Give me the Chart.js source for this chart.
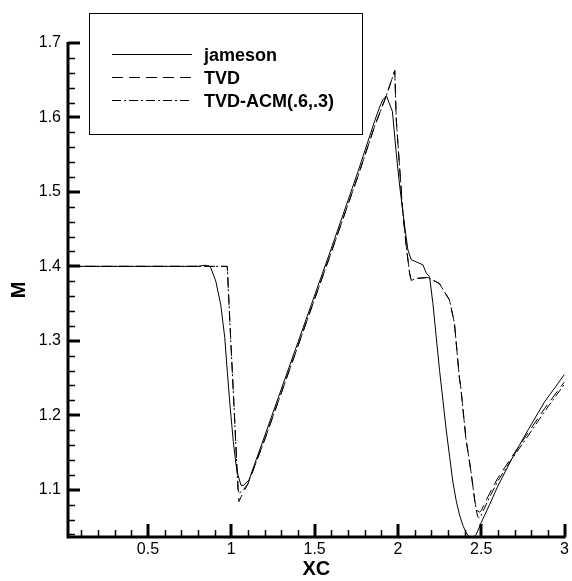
<!DOCTYPE html>
<html>
<head>
<meta charset="utf-8">
<script src="https://cdn.jsdelivr.net/npm/chart.js@4.4.0/dist/chart.umd.min.js"></script>
<style>
  html, body { margin: 0; padding: 0; background: #fff; }
</style>
</head>
<body>
<canvas id="myChart" width="572" height="581"></canvas>
<script>
// curve values
var jamesonX = [0.02, 0.80, 0.84, 0.867, 0.877, 0.907, 0.937, 0.961, 0.976, 0.992, 1.012, 1.028, 1.040, 1.058, 1.075, 1.106,
  1.2, 1.4, 1.6, 1.76, 1.86, 1.89, 1.91, 1.931, 1.967, 1.99, 2.011, 2.041, 2.06, 2.08, 2.15, 2.17, 2.19,
  2.21, 2.23, 2.25, 2.27, 2.29, 2.31, 2.33, 2.35, 2.37, 2.39, 2.41, 2.43, 2.45, 2.47, 2.50, 2.55, 2.60, 2.68, 2.78, 2.88, 3.0];
var jamesonM = [1.4, 1.4, 1.4015, 1.4005, 1.398, 1.380, 1.348, 1.304, 1.259, 1.214, 1.165, 1.134, 1.120, 1.106, 1.106, 1.113,
  1.172, 1.298, 1.424, 1.527, 1.595, 1.614, 1.624, 1.629, 1.608, 1.552, 1.507, 1.453, 1.422, 1.409, 1.402, 1.391, 1.386,
  1.35, 1.305, 1.26, 1.22, 1.18, 1.145, 1.11, 1.085, 1.066, 1.052, 1.042, 1.036, 1.035, 1.04, 1.056, 1.08, 1.105, 1.14, 1.18, 1.218, 1.255];

var tvdX = [0.02, 0.975, 0.976, 0.996, 1.016, 1.032, 1.046, 1.06, 1.1, 1.2, 1.4, 1.6, 1.76, 1.86, 1.93, 1.981,
  1.990, 2.011, 2.030, 2.050, 2.070, 2.080, 2.10, 2.12, 2.18, 2.249, 2.309, 2.339, 2.369, 2.378, 2.408, 2.438, 2.462,
  2.475, 2.49, 2.50, 2.55, 2.60, 2.68, 2.78, 2.88, 3.0];
var tvdM = [1.4, 1.4, 1.399, 1.304, 1.214, 1.138, 1.084, 1.091, 1.108, 1.167, 1.293, 1.419, 1.521, 1.588, 1.629, 1.663,
  1.597, 1.530, 1.471, 1.427, 1.391, 1.381, 1.383, 1.384, 1.385, 1.377, 1.355, 1.324, 1.25, 1.236, 1.169, 1.125, 1.084,
  1.072, 1.070, 1.072, 1.095, 1.116, 1.143, 1.176, 1.209, 1.245];

var acmX = [0.02, 0.975, 0.976, 0.996, 1.016, 1.032, 1.040, 1.05, 1.07, 1.1, 1.2, 1.4, 1.6, 1.76, 1.86, 1.93, 1.981,
  1.990, 2.011, 2.030, 2.050, 2.070, 2.080, 2.10, 2.12, 2.18, 2.249, 2.309, 2.339, 2.369, 2.378, 2.408, 2.438, 2.462,
  2.478, 2.49, 2.50, 2.55, 2.60, 2.68, 2.78, 2.88, 3.0];
var acmM = [1.4, 1.4, 1.399, 1.304, 1.214, 1.138, 1.100, 1.096, 1.099, 1.108, 1.167, 1.293, 1.419, 1.521, 1.588, 1.629, 1.663,
  1.597, 1.530, 1.471, 1.427, 1.391, 1.381, 1.383, 1.384, 1.385, 1.377, 1.355, 1.324, 1.25, 1.236, 1.169, 1.125, 1.084,
  1.064, 1.062, 1.066, 1.090, 1.112, 1.140, 1.172, 1.205, 1.242];

var seriesNames = ['jameson', 'TVD', 'TVD-ACM(.6,.3)'];
var xTickLabels = [0.5, 1, 1.5, 2, 2.5, 3];
var yTickLabels = [1.1, 1.2, 1.3, 1.4, 1.5, 1.6, 1.7];

function pts(xs, ys) {
  return xs.map(function (v, i) { return { x: v, y: ys[i] }; });
}

Chart.defaults.font.family = '"Liberation Sans", Arial, sans-serif';
Chart.defaults.color = '#000';

// ticks point into the plot, axes thick, legend in a framed box
var tecplotAxes = {
  id: 'tecplotAxes',
  afterDraw: function (chart) {
    var ctx = chart.ctx, a = chart.chartArea;
    var xs = chart.scales.x, ys = chart.scales.y;
    ctx.save();
    ctx.strokeStyle = '#000';
    ctx.lineCap = 'butt';

    // minor ticks
    ctx.lineWidth = 1.5;
    ctx.beginPath();
    for (var i = 1; i < 30; i++) {
      var v = i / 10;
      if (i % 5 === 0) continue;
      var px = Math.round(xs.getPixelForValue(v)) + 0.5;
      ctx.moveTo(px, a.bottom);
      ctx.lineTo(px, a.bottom - 7);
    }
    for (var j = 52; j < 85; j++) {
      if (j % 5 === 0) continue;
      var py = Math.round(ys.getPixelForValue(j / 50)) + 0.5;
      ctx.moveTo(a.left, py);
      ctx.lineTo(a.left + 7, py);
    }
    ctx.stroke();

    // major ticks
    ctx.lineWidth = 3;
    ctx.beginPath();
    xTickLabels.forEach(function (v) {
      var px = Math.round(xs.getPixelForValue(v));
      ctx.moveTo(px, a.bottom);
      ctx.lineTo(px, a.bottom - 13);
    });
    yTickLabels.forEach(function (v) {
      var py = Math.round(ys.getPixelForValue(v));
      ctx.moveTo(a.left, py);
      ctx.lineTo(a.left + 12, py);
    });
    ctx.stroke();

    // axis lines
    ctx.beginPath();
    ctx.moveTo(a.left, a.top - 1);
    ctx.lineTo(a.left, a.bottom);
    ctx.lineTo(a.right + 1, a.bottom);
    ctx.stroke();

    // legend
    ctx.lineWidth = 1;
    ctx.strokeRect(89.5, 13.5, 273, 121);
    ctx.font = 'bold 18px "Liberation Sans", Arial, sans-serif';
    ctx.fillStyle = '#000';
    ctx.textBaseline = 'alphabetic';
    var rows = [54.5, 77.5, 100.5];
    chart.data.datasets.forEach(function (ds, k) {
      ctx.setLineDash(ds.borderDash || []);
      ctx.beginPath();
      ctx.moveTo(112, rows[k]);
      ctx.lineTo(192, rows[k]);
      ctx.stroke();
      ctx.setLineDash([]);
      ctx.fillText(ds.label, 204, rows[k] + 6);
    });
    ctx.restore();
  }
};

var ctx = document.getElementById('myChart').getContext('2d');
var chart = new Chart(ctx, {
  type: 'line',
  data: {
    datasets: [
      { label: seriesNames[0], data: pts(jamesonX, jamesonM), borderColor: '#000', borderWidth: 1 },
      { label: seriesNames[1], data: pts(tvdX, tvdM), borderColor: '#000', borderWidth: 1, borderDash: [11, 6] },
      { label: seriesNames[2], data: pts(acmX, acmM), borderColor: '#000', borderWidth: 1, borderDash: [9, 3, 2, 3] }
    ]
  },
  options: {
    responsive: false,
    animation: false,
    parsing: false,
    layout: { padding: { top: 43, right: 5, left: 0, bottom: 0 } },
    elements: { point: { radius: 0 }, line: { tension: 0 } },
    plugins: { legend: { display: false }, tooltip: { enabled: false } },
    scales: {
      x: {
        type: 'linear',
        min: 0.02,
        max: 3,
        afterBuildTicks: function (s) { s.ticks = xTickLabels.map(function (v) { return { value: v }; }); },
        afterFit: function (s) { s.height = 44; },
        grid: { display: false, drawTicks: false },
        border: { display: false },
        ticks: { padding: 3, maxRotation: 0, autoSkip: false, color: '#000', font: { size: 16 },
          callback: function (v) { return String(v); } },
        title: { display: true, text: 'XC', color: '#000', font: { size: 20, weight: 'bold' }, padding: 0 }
      },
      y: {
        type: 'linear',
        min: 1.0365,
        max: 1.7,
        afterBuildTicks: function (s) { s.ticks = yTickLabels.map(function (v) { return { value: v }; }); },
        afterFit: function (s) { s.width = 68; },
        grid: { display: false, drawTicks: false },
        border: { display: false },
        ticks: { padding: 7, autoSkip: false, color: '#000', font: { size: 16 },
          callback: function (v) { return String(v); } },
        title: { display: true, text: 'M', color: '#000', font: { size: 20, weight: 'bold' }, padding: { top: 7, bottom: 0 } }
      }
    }
  },
  plugins: [tecplotAxes]
});
</script>
</body>
</html>
